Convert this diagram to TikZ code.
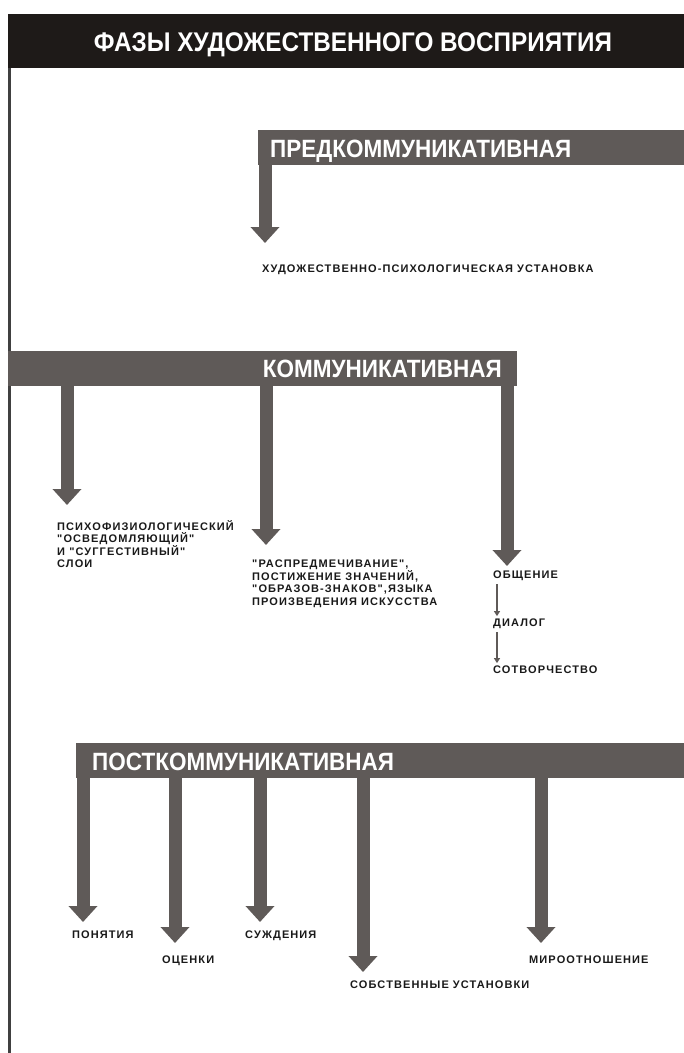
\documentclass[tikz,border=0pt]{standalone}
\usepackage{fontspec}
\setmainfont{Liberation Sans}
\newfontfamily\headfont[FakeStretch=0.9]{Liberation Sans}
\newfontfamily\itemfont[LetterSpace=10]{Liberation Sans}
\usetikzlibrary{arrows.meta}
\usetikzlibrary{positioning}
\definecolor{bargray}{HTML}{5F5A58}
\definecolor{headblack}{HTML}{1E1A18}
\tikzset{
  x=1pt, y=1pt,
  phasebar/.style={fill=bargray, inner sep=0, anchor=north west, minimum height=35pt},
  phasename/.style={text=white, inner sep=0, font=\headfont\bfseries\fontsize{25}{25}\selectfont},
  bigarrow/.style={draw=bargray, line width=13pt, -{Triangle[width=28pt,length=16pt]}},
  smallarrow/.style={draw=bargray, line width=2.5pt, -{Triangle[width=6pt,length=5pt]}},
  itemtext/.style={inner sep=0, anchor=base west, align=left, text=black!90,
    font=\itemfont\bfseries\fontsize{11}{12.5}\selectfont}
}

\begin{document}
\begin{tikzpicture}
  \useasboundingbox (0,0) rectangle (684,-1053);

  % header
  \node[fill=headblack, inner sep=0, anchor=north west, minimum width=676pt, minimum height=54pt] (head) at (8,-14) {};
  \node[text=white, inner sep=0, anchor=base, font=\headfont\bfseries\fontsize{27}{27}\selectfont] (title) at (353,-51) {ФАЗЫ ХУДОЖЕСТВЕННОГО ВОСПРИЯТИЯ};
  \draw[black!75, line width=2.5pt] (head.south west) ++(1.25,0) -- (9.25,-1053);

  % phases
  \node[phasebar, minimum width=426pt] (pre) at (258,-130) {};
  \node[phasename, anchor=base west] (pretext) at (270,-157) {ПРЕДКОММУНИКАТИВНАЯ};
  \node[phasebar, minimum width=509pt] (komm) at (8,-351) {};
  \node[phasename, anchor=base east] (kommtext) at (502,-377) {КОММУНИКАТИВНАЯ};
  \node[phasebar, minimum width=608pt] (post) at (76,-743) {};
  \node[phasename, anchor=base west] (posttext) at (92,-770) {ПОСТКОММУНИКАТИВНАЯ};

  % arrow tips
  \coordinate (tpre) at (265,-243);
  \coordinate (tk1) at (67,-505);
  \coordinate (tk2) at (266,-545);
  \coordinate (tk3) at (507,-566);
  \coordinate (tp1) at (83,-922);
  \coordinate (tp2) at (175,-943);
  \coordinate (tp3) at (260,-922);
  \coordinate (tp4) at (363,-972);
  \coordinate (tp5) at (541,-943);

  % texts
  \node[itemtext] (ustanovka) at (262,-272) {ХУДОЖЕСТВЕННО-ПСИХОЛОГИЧЕСКАЯ УСТАНОВКА};
  \node[itemtext, anchor=north west] (sloi) at (57,-520) {ПСИХОФИЗИОЛОГИЧЕСКИЙ\\"ОСВЕДОМЛЯЮЩИЙ"\\И "СУГГЕСТИВНЫЙ"\\СЛОИ};
  \node[itemtext, anchor=north west] (znach) at (252,-560) {"РАСПРЕДМЕЧИВАНИЕ",\\ПОСТИЖЕНИЕ ЗНАЧЕНИЙ,\\"ОБРАЗОВ-ЗНАКОВ",ЯЗЫКА\\ПРОИЗВЕДЕНИЯ ИСКУССТВА};
  \node[itemtext] (obsh) at (493,-578) {ОБЩЕНИЕ};
  \node[itemtext] (dialog) at (493,-626) {ДИАЛОГ};
  \node[itemtext] (tvor) at (493,-673) {СОТВОРЧЕСТВО};
  \node[itemtext] (pon) at (72,-938) {ПОНЯТИЯ};
  \node[itemtext] (ocen) at (162,-963) {ОЦЕНКИ};
  \node[itemtext] (suzh) at (245,-938) {СУЖДЕНИЯ};
  \node[itemtext] (sobst) at (350,-988) {СОБСТВЕННЫЕ УСТАНОВКИ};
  \node[itemtext] (mir) at (529,-963) {МИРООТНОШЕНИЕ};

  % arrows
  \draw[bigarrow] (pre.south -| tpre) -- (tpre);
  \foreach \t in {tk1,tk2,tk3}
    \draw[bigarrow] (komm.south -| \t) -- (\t);
  \foreach \t in {tp1,tp2,tp3,tp4,tp5}
    \draw[bigarrow] (post.south -| \t) -- (\t);
  \draw[smallarrow] ([xshift=4pt,yshift=-4pt]obsh.south west) -- ([xshift=4pt,yshift=2pt]dialog.north west);
  \draw[smallarrow] ([xshift=4pt,yshift=-4pt]dialog.south west) -- ([xshift=4pt,yshift=2pt]tvor.north west);
\end{tikzpicture}
\end{document}
